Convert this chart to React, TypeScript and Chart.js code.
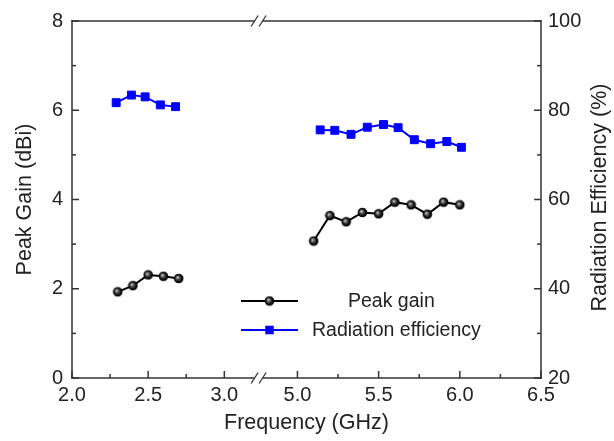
import React, { useEffect, useRef } from 'react';
import { Chart, registerables } from 'chart.js';

Chart.register(...registerables);

// ---- data ----
const GAIN_FREQ_LOW = [2.3, 2.4, 2.5, 2.6, 2.7];
const GAIN_LOW = [1.93, 2.07, 2.31, 2.28, 2.23];
const GAIN_FREQ_HIGH = [5.1, 5.2, 5.3, 5.4, 5.5, 5.6, 5.7, 5.8, 5.9, 6.0];
const GAIN_HIGH = [3.07, 3.64, 3.5, 3.71, 3.68, 3.94, 3.88, 3.67, 3.94, 3.88];

const EFF_FREQ_LOW = [2.29, 2.39, 2.48, 2.58, 2.68];
const EFF_LOW = [81.7, 83.4, 83.0, 81.2, 80.8];
const EFF_FREQ_HIGH = [5.14, 5.23, 5.33, 5.43, 5.53, 5.62, 5.72, 5.82, 5.92, 6.01];
const EFF_HIGH = [75.6, 75.5, 74.6, 76.2, 76.8, 76.1, 73.4, 72.5, 73.0, 71.7];

const X_TICKS = [2.0, 2.5, 3.0, 5.0, 5.5, 6.0, 6.5];
const X_TICK_LABELS = ['2.0', '2.5', '3.0', '5.0', '5.5', '6.0', '6.5'];
const X_MINOR = [2.25, 2.75, 5.25, 5.75, 6.25];
const GAIN_MINOR = [1, 3, 5, 7];
const EFF_MINOR = [30, 50, 70, 90];

const SERIES_LABELS = ['Peak gain', 'Radiation efficiency'];
const X_TITLE = 'Frequency (GHz)';
const Y_TITLE = 'Peak Gain (dBi)';
const Y1_TITLE = 'Radiation Efficiency (%)';

// ---- broken axis mapping ----
const SEG1_END = 3.0;
const SEG2_START = 5.0;
const GAP = 0.48;
const SEG2_STRETCH = 1.066;
const X_MIN = 2.0;
const X_MAX = 6.5;
const BREAK_FREQ = 4.0;
const fwd = (f: number) => (f <= BREAK_FREQ ? f : SEG1_END + GAP + (f - SEG2_START) * SEG2_STRETCH);
const BREAK_U = SEG1_END + 0.225;

const FONT = "'Liberation Sans', Arial, sans-serif";
const TEXT = '#222';
const AXIS = '#333';
const BLUE = '#0000ff';
const TITLE_SIZE = 21.5;

function buildSeries(fl: number[], vl: number[], fh: number[], vh: number[]) {
  const pts: any[] = fl.map((f, i) => ({ x: fwd(f), y: vl[i] }));
  pts.push({ x: fwd(BREAK_FREQ), y: null });
  fh.forEach((f, i) => pts.push({ x: fwd(f), y: vh[i] }));
  return pts;
}

function makeSphere() {
  const c = document.createElement('canvas');
  c.width = 11;
  c.height = 11;
  const g = c.getContext('2d')!;
  const grad = g.createRadialGradient(4.3, 4.3, 0.3, 5.5, 5.5, 5);
  grad.addColorStop(0, '#d0d0d0');
  grad.addColorStop(0.3, '#5a5a5a');
  grad.addColorStop(0.7, '#0c0c0c');
  grad.addColorStop(1, '#000');
  g.fillStyle = grad;
  g.beginPath();
  g.arc(5.5, 5.5, 4.8, 0, Math.PI * 2);
  g.fill();
  return c;
}

export default function App() {
  const ref = useRef<HTMLCanvasElement>(null);

  useEffect(() => {
    const sphere = makeSphere();

    const framePlugin = {
      id: 'frame',
      afterDraw(chart: any) {
        const { ctx, chartArea } = chart;
        const { left, right, top, bottom } = chartArea;
        const xs = chart.scales.x;
        const yl = chart.scales.y;
        const yr = chart.scales.y1;
        const bx = xs.getPixelForValue(BREAK_U);
        ctx.save();
        ctx.strokeStyle = AXIS;
        ctx.lineWidth = 1.5;
        const line = (x1: number, y1: number, x2: number, y2: number) => {
          ctx.beginPath();
          ctx.moveTo(x1, y1);
          ctx.lineTo(x2, y2);
          ctx.stroke();
        };
        const h = 0.75;
        line(left, top - h, left, bottom + h);
        line(right, top - h, right, bottom + h);
        for (const y of [top, bottom]) {
          line(left - h, y, bx - 4, y);
          line(bx + 4, y, right + h, y);
          ctx.lineWidth = 1.3;
          line(bx - 4 - 3.5, y + 5.5, bx - 4 + 3.5, y - 5.5);
          line(bx + 4 - 3.5, y + 5.5, bx + 4 + 3.5, y - 5.5);
          ctx.lineWidth = 1.5;
        }
        const MAJ = 7;
        const MIN = 4;
        X_TICKS.forEach((f) => {
          const px = xs.getPixelForValue(fwd(f));
          line(px, bottom, px, bottom - MAJ);
        });
        X_MINOR.forEach((f) => {
          const px = xs.getPixelForValue(fwd(f));
          line(px, bottom, px, bottom - MIN);
        });
        yl.ticks.forEach((t: any) => {
          const py = yl.getPixelForValue(t.value);
          line(left, py, left + MAJ, py);
        });
        GAIN_MINOR.forEach((v) => {
          const py = yl.getPixelForValue(v);
          line(left, py, left + MIN, py);
        });
        yr.ticks.forEach((t: any) => {
          const py = yr.getPixelForValue(t.value);
          line(right, py, right - MAJ, py);
        });
        EFF_MINOR.forEach((v) => {
          const py = yr.getPixelForValue(v);
          line(right, py, right - MIN, py);
        });

        // right axis title, reading bottom-to-top like the reference
        ctx.fillStyle = TEXT;
        ctx.font = `${TITLE_SIZE}px ${FONT}`;
        ctx.textAlign = 'center';
        ctx.textBaseline = 'middle';
        ctx.translate(yr.right - 14, (top + bottom) / 2 - 2);
        ctx.rotate(-Math.PI / 2);
        ctx.fillText(Y1_TITLE, 0, 0);
        ctx.restore();
      },
      afterDatasetsDraw(chart: any) {
        const { ctx, chartArea } = chart;
        const { left, top } = chartArea;
        const ds = chart.data.datasets;
        ctx.save();
        const x1 = left + 169;
        const x2 = left + 226;
        const xm = (x1 + x2) / 2;
        const rows = [
          { y: top + 280, tx: left + 276 },
          { y: top + 309, tx: left + 240 },
        ];
        rows.forEach((r, i) => {
          const d = ds[i];
          ctx.strokeStyle = d.borderColor;
          ctx.lineWidth = d.borderWidth;
          ctx.beginPath();
          ctx.moveTo(x1, r.y);
          ctx.lineTo(x2, r.y);
          ctx.stroke();
          if (i === 0) {
            ctx.drawImage(sphere, xm - sphere.width / 2, r.y - sphere.height / 2);
          } else {
            ctx.fillStyle = d.pointBackgroundColor;
            const s = 8.5;
            ctx.fillRect(xm - s / 2, r.y - s / 2, s, s);
          }
          ctx.fillStyle = TEXT;
          ctx.font = `19.5px ${FONT}`;
          ctx.textBaseline = 'middle';
          ctx.textAlign = 'left';
          ctx.fillText(d.label, r.tx, r.y + 1);
        });
        ctx.restore();
      },
    };

    const chart = new Chart(ref.current!, {
      type: 'line',
      data: {
        datasets: [
          {
            label: SERIES_LABELS[0],
            data: buildSeries(GAIN_FREQ_LOW, GAIN_LOW, GAIN_FREQ_HIGH, GAIN_HIGH),
            yAxisID: 'y',
            borderColor: '#000',
            borderWidth: 2,
            pointStyle: sphere as any,
            pointRadius: 5,
            pointBackgroundColor: '#000',
            spanGaps: false,
            tension: 0,
          },
          {
            label: SERIES_LABELS[1],
            data: buildSeries(EFF_FREQ_LOW, EFF_LOW, EFF_FREQ_HIGH, EFF_HIGH),
            yAxisID: 'y1',
            borderColor: BLUE,
            borderWidth: 2,
            pointStyle: 'rect',
            pointRadius: 5.6,
            pointBorderWidth: 1,
            pointBackgroundColor: BLUE,
            pointBorderColor: BLUE,
            spanGaps: false,
            tension: 0,
          },
        ] as any,
      },
      options: {
        animation: false,
        responsive: false,
        maintainAspectRatio: false,
        layout: { padding: { top: 19, left: 0, right: 0, bottom: 0 } },
        plugins: { legend: { display: false }, tooltip: { enabled: false } },
        scales: {
          x: {
            type: 'linear',
            min: fwd(X_MIN),
            max: fwd(X_MAX),
            grid: { display: false, drawTicks: false },
            border: { display: false },
            afterBuildTicks: (s: any) => {
              s.ticks = X_TICKS.map((f) => ({ value: fwd(f) }));
            },
            afterFit: (s: any) => {
              s.height = 63;
            },
            ticks: {
              autoSkip: false,
              maxRotation: 0,
              padding: 5,
              color: TEXT,
              font: { family: FONT, size: 20 },
              callback: (_v: any, i: number) => X_TICK_LABELS[i],
            },
            title: {
              display: true,
              text: X_TITLE,
              color: TEXT,
              font: { family: FONT, size: TITLE_SIZE },
              padding: { top: 0, bottom: 5 },
            },
          },
          y: {
            type: 'linear',
            position: 'left',
            min: 0,
            max: 8,
            grid: { display: false, drawTicks: false },
            border: { display: false },
            afterFit: (s: any) => {
              s.width = 72;
            },
            ticks: {
              stepSize: 2,
              padding: 9,
              color: TEXT,
              font: { family: FONT, size: 20 },
            },
            title: {
              display: true,
              text: Y_TITLE,
              color: TEXT,
              font: { family: FONT, size: TITLE_SIZE },
              padding: { top: 12, bottom: 0 },
            },
          },
          y1: {
            type: 'linear',
            position: 'right',
            min: 20,
            max: 100,
            grid: { display: false, drawTicks: false },
            border: { display: false },
            afterFit: (s: any) => {
              s.width = 73;
            },
            ticks: {
              stepSize: 20,
              padding: 7,
              color: TEXT,
              font: { family: FONT, size: 20 },
            },
            title: { display: false },
          },
        },
      } as any,
      plugins: [framePlugin as any],
    });
    return () => chart.destroy();
  }, []);

  return (
    <div style={{ position: 'fixed', left: 0, top: 0, width: 614, height: 441, background: '#fff' }}>
      <canvas ref={ref} width={614} height={441} style={{ display: 'block' }} />
    </div>
  );
}
